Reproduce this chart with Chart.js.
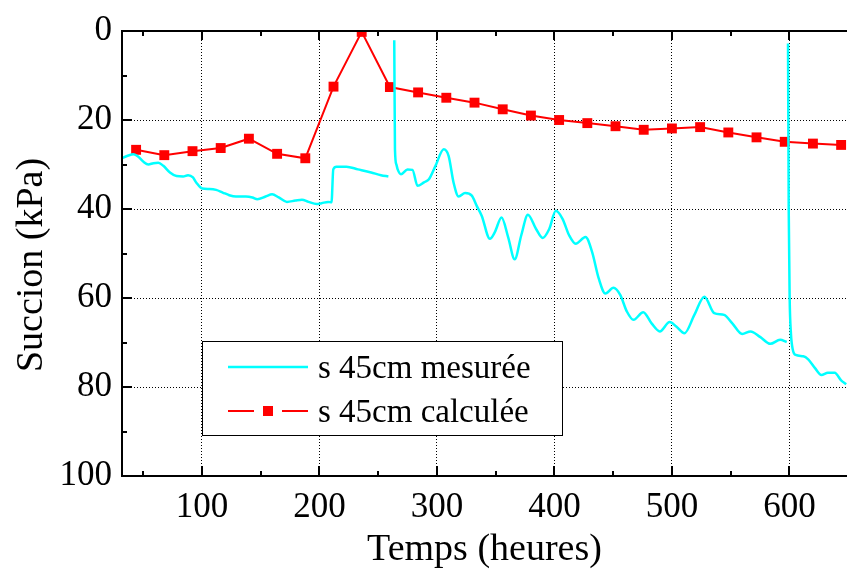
<!DOCTYPE html>
<html>
<head>
<meta charset="utf-8">
<script src="https://cdn.jsdelivr.net/npm/chart.js@4.4.1/dist/chart.umd.min.js"></script>
<style>
    html, body { margin: 0; padding: 0; background: #fff; }
    .fontwarm { position: absolute; left: -1000px; top: 0; font-family: "Liberation Serif"; font-size: 35px; }
</style>
</head>
<body>
<span class="fontwarm">Succion 0123456789</span>
<canvas id="chart" width="854" height="571"></canvas>
<script>
// series (x in hours, y in kPa)
const measuredLabel = "s 45cm mesurée";
const calcLabel = "s 45cm calculée";
const xTitle = "Temps (heures)";
const yTitle = "Succion (kPa)";

const measuredX = [30.7, 36.3, 41.9, 46.1, 50.3, 54.5, 58.7, 62.9, 67.2, 72.8, 78.4, 84.0, 88.2, 92.4, 95.3,
    100.3, 106.5, 112.1, 117.7, 123.3, 129.0, 137.4, 143.0, 147.2, 154.2, 159.8, 165.4, 172.4, 179.5, 185.1,
    190.7, 197.7, 201.9, 207.5, 210.3, 211.8, 214.5, 223.0, 232.8, 244.0, 252.4, 258.7,
    261,
    263.7, 264.3, 265.5, 266.6, 269.4, 275.0, 279.2, 283.5, 289.0, 293.2, 298.8, 305.8, 310.0, 314.2, 318.5,
    324.0, 329.7, 333.9, 338.1, 345.1, 349.3, 355.0, 360.6, 366.2, 371.8, 377.4, 384.4, 390.0, 395.6, 401.2,
    406.9, 412.5, 418.1, 426.5, 432.1, 437.7, 443.4, 450.3, 456.0, 461.6, 467.3, 475.6, 482.7, 489.7, 498.1,
    503.7, 510.7, 519.1, 527.6, 536.0, 544.4, 551.4, 559.8, 566.9, 575.3, 583.7, 592.1, 597.7,
    598.2,
    598.8, 599.4, 600.2, 601.3, 602.8, 605.3, 611.8, 616.0, 621.6, 627.2, 632.8, 638.5, 644.0, 648.3];
const measuredY = [28.7, 28.1, 27.7, 28.3, 29.4, 30.0, 29.7, 29.6, 30.3, 31.8, 32.6, 32.7, 32.4, 32.9, 34.1,
    35.4, 35.5, 35.7, 36.3, 36.9, 37.2, 37.2, 37.4, 37.8, 37.2, 36.7, 37.4, 38.4, 38.1, 37.9,
    38.4, 38.9, 38.7, 38.4, 38.5, 31.1, 30.5, 30.5, 31.1, 31.8, 32.4, 32.7,
    null,
    2.1, 26.6, 30.0, 31.1, 32.2, 31.1, 31.2, 34.8, 34.0, 33.3, 30.3, 26.6, 28.1, 34.1, 37.2,
    36.4, 37.0, 39.3, 41.5, 46.7, 45.2, 41.9, 46.3, 51.3, 45.9, 41.3, 44.5, 46.5, 44.5, 40.4,
    42.2, 45.9, 47.8, 46.3, 49.7, 55.6, 59.0, 57.7, 59.3, 63.0, 64.9, 63.2, 65.7, 67.5, 65.4,
    66.4, 67.9, 63.8, 59.7, 63.4, 63.8, 65.7, 68.1, 67.5, 68.8, 70.3, 69.4, 69.9,
    null,
    2.8, 40.0, 60.0, 68.0, 71.5, 72.8, 73.1, 73.8, 75.7, 77.3, 76.8, 76.8, 78.5, 79.4];

const calcX = [44, 68, 92, 116, 140, 164, 188, 212, 236, 260, 284, 308, 332, 356, 380, 404, 428,
    452, 476, 500, 524, 548, 572, 596, 620, 644];
const calcY = [26.7, 27.9, 27.0, 26.3, 24.2, 27.6, 28.6, 12.5, 0.2, 12.6, 13.8, 15.0, 16.1, 17.6, 19.0,
    20.0, 20.7, 21.4, 22.2, 21.9, 21.6, 22.8, 23.9, 24.9, 25.3, 25.6];

const xTickValues = [100, 200, 300, 400, 500, 600];
const xMinorTicks = [50, 150, 250, 350, 450, 550];
const yTickValues = [0, 20, 40, 60, 80, 100];
const yMinorTicks = [10, 30, 50, 70, 90];

const CYAN = "#00ffff";
const RED = "#ff0000";
const FAMILY = "'Liberation Serif', 'Times New Roman', 'DejaVu Serif', serif";

function toPoints(xs, ys) {
    return xs.map((x, i) => ({ x: x, y: ys[i] }));
}

// frame on top + inward ticks like the original plot
const framePlugin = {
    id: "frame",
    afterDatasetsDraw(chart) {
        let ctx = chart.ctx;
        let a = chart.chartArea;
        let xs = chart.scales.x;
        let ys = chart.scales.y;
        ctx.save();
        ctx.strokeStyle = "#000";
        ctx.lineWidth = 2;
        ctx.beginPath();
        ctx.moveTo(a.left - 1, a.top);
        ctx.lineTo(a.right, a.top);
        ctx.moveTo(a.left, a.top);
        ctx.lineTo(a.left, a.bottom);
        ctx.moveTo(a.left - 1, a.bottom);
        ctx.lineTo(a.right, a.bottom);

        xTickValues.forEach(v => {
            let px = Math.round(xs.getPixelForValue(v));
            ctx.moveTo(px, a.bottom); ctx.lineTo(px, a.bottom - 10);
            ctx.moveTo(px, a.top); ctx.lineTo(px, a.top + 9);
        });
        xMinorTicks.forEach(v => {
            let px = Math.round(xs.getPixelForValue(v));
            ctx.moveTo(px, a.bottom); ctx.lineTo(px, a.bottom - 5);
            ctx.moveTo(px, a.top); ctx.lineTo(px, a.top + 5);
        });
        yTickValues.forEach(v => {
            let py = Math.round(ys.getPixelForValue(v));
            ctx.moveTo(a.left, py); ctx.lineTo(a.left + 10, py);
        });
        yMinorTicks.forEach(v => {
            let py = Math.round(ys.getPixelForValue(v));
            ctx.moveTo(a.left, py); ctx.lineTo(a.left + 5, py);
        });
        ctx.stroke();
        ctx.restore();
    }
};

// legend box inside the plot, y title a bit below centre as in the original
const legendPlugin = {
    id: "boxLegend",
    afterDraw(chart) {
        let ctx = chart.ctx;
        ctx.save();
        ctx.fillStyle = "#fff";
        ctx.fillRect(202, 341, 360, 94);
        ctx.strokeStyle = "#000";
        ctx.lineWidth = 1;
        ctx.strokeRect(202.5, 341.5, 360, 94);

        ctx.strokeStyle = CYAN;
        ctx.lineWidth = 2.5;
        ctx.beginPath();
        ctx.moveTo(228, 367);
        ctx.lineTo(308, 367);
        ctx.stroke();

        ctx.strokeStyle = RED;
        ctx.lineWidth = 2;
        ctx.beginPath();
        ctx.moveTo(228, 411);
        ctx.lineTo(254, 411);
        ctx.moveTo(282, 411);
        ctx.lineTo(308, 411);
        ctx.stroke();
        ctx.fillStyle = RED;
        ctx.fillRect(263, 406, 10, 10);

        ctx.fillStyle = "#000";
        ctx.font = "33px " + FAMILY;
        ctx.textBaseline = "alphabetic";
        ctx.textAlign = "left";
        ctx.fillText(measuredLabel, 318, 378);
        ctx.fillText(calcLabel, 318, 422);

        ctx.font = "38px " + FAMILY;
        ctx.textAlign = "center";
        ctx.translate(42, 265);
        ctx.rotate(-Math.PI / 2);
        ctx.fillText(yTitle, 0, 0);
        ctx.restore();
    }
};

Chart.defaults.font.family = FAMILY;
Chart.defaults.color = "#000";

function draw() {
    new Chart(document.getElementById("chart"), {
        type: "line",
        data: {
            datasets: [
                {
                    label: measuredLabel,
                    data: toPoints(measuredX, measuredY),
                    borderColor: CYAN,
                    borderWidth: 2.5,
                    pointRadius: 0,
                    fill: false,
                    spanGaps: false,
                    cubicInterpolationMode: "monotone",
                    clip: 0
                },
                {
                    label: calcLabel,
                    data: toPoints(calcX, calcY),
                    borderColor: RED,
                    backgroundColor: RED,
                    borderWidth: 2,
                    pointStyle: "rect",
                    pointRadius: 7,
                    pointBorderWidth: 0,
                    pointBackgroundColor: RED,
                    fill: false,
                    tension: 0,
                    clip: 0
                }
            ]
        },
        options: {
            responsive: false,
            devicePixelRatio: 1,
            animation: false,
            events: [],
            layout: { padding: { top: 27, right: 0, left: 0, bottom: 0 } },
            plugins: {
                legend: { display: false },
                tooltip: { enabled: false }
            },
            scales: {
                x: {
                    type: "linear",
                    min: 32,
                    max: 649,
                    afterBuildTicks: s => { s.ticks = xTickValues.map(v => ({ value: v })); },
                    afterFit: s => { s.height = 95; },
                    ticks: { font: { size: 35 }, padding: 11, maxRotation: 0, autoSkip: false },
                    grid: { color: "#000", lineWidth: 1, drawTicks: false },
                    border: { display: false, dash: [1, 2] },
                    title: {
                        display: true,
                        text: xTitle,
                        font: { size: 38, lineHeight: 1 },
                        padding: { top: 0, bottom: 2 }
                    }
                },
                y: {
                    type: "linear",
                    reverse: true,
                    min: 0,
                    max: 100,
                    afterBuildTicks: s => { s.ticks = yTickValues.map(v => ({ value: v })); },
                    afterFit: s => { s.width = 122; },
                    ticks: { font: { size: 35 }, padding: 10, autoSkip: false },
                    grid: { color: "#000", lineWidth: 1, drawTicks: false },
                    border: { display: false, dash: [1, 2] }
                }
            }
        },
        plugins: [framePlugin, legendPlugin]
    });
}

if (document.fonts && document.fonts.load) {
    Promise.all([
        document.fonts.load("35px 'Liberation Serif'"),
        document.fonts.load("35px 'DejaVu Serif'")
    ]).then(draw, draw);
} else {
    draw();
}
</script>
</body>
</html>
